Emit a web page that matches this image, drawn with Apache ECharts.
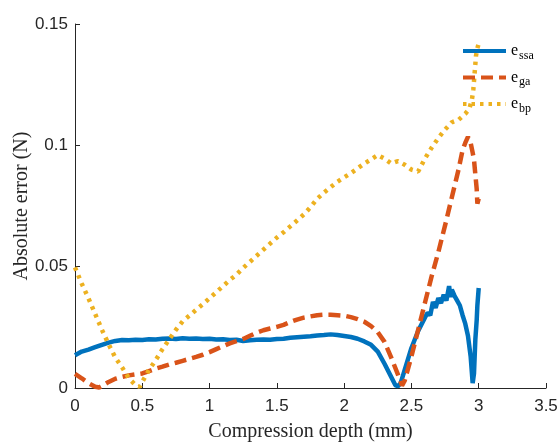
<!DOCTYPE html>
<html>
<head>
<meta charset="utf-8">
<script src="https://cdn.jsdelivr.net/npm/echarts@6/dist/echarts.min.js"></script>
<style>
html,body{margin:0;padding:0;background:#fff;}
#chart{width:558px;height:443px;}
</style>
</head>
<body>
<div id="chart"></div>
<script>
// ---- data ----
var seriesNames = ['e_ssa', 'e_ga', 'e_bp'];
var legendSubs = ['ssa', 'ga', 'bp'];
var xTickLabels = ['0', '0.5', '1', '1.5', '2', '2.5', '3', '3.5'];
var yTickLabels = ['0', '0.05', '0.1', '0.15'];

var depthSsa = [0,0.05,0.1,0.15,0.2,0.25,0.3,0.35,0.4,0.45,0.5,0.55,0.6,0.65,0.7,0.75,0.8,0.85,0.9,0.95,1.0,1.05,1.1,1.15,1.2,1.25,1.3,1.35,1.4,1.45,1.5,1.55,1.6,1.65,1.7,1.75,1.8,1.85,1.9,1.95,2.0,2.05,2.1,2.15,2.2,2.25,2.3,2.35,2.38,2.4,2.42,2.45,2.5,2.55,2.6,2.62,2.64,2.66,2.68,2.7,2.72,2.74,2.76,2.78,2.79,2.8,2.82,2.84,2.86,2.88,2.9,2.92,2.94,2.955,2.965,2.975,2.985,2.99,3.0];
var errSsa = [0.0135,0.0150,0.0158,0.0168,0.0178,0.0187,0.0194,0.0198,0.0197,0.0199,0.0198,0.0201,0.0200,0.0203,0.0204,0.0202,0.0205,0.0203,0.0204,0.0202,0.0203,0.0200,0.0201,0.0198,0.0199,0.0194,0.0197,0.0199,0.0200,0.0199,0.0202,0.0203,0.0207,0.0209,0.0211,0.0213,0.0216,0.0218,0.0221,0.0218,0.0214,0.0210,0.0203,0.0192,0.0178,0.0150,0.0100,0.0045,0.0012,0.0007,0.0020,0.0075,0.0165,0.0235,0.0290,0.0310,0.0300,0.0355,0.0330,0.0370,0.0350,0.0385,0.0360,0.0420,0.0375,0.0405,0.0380,0.0360,0.0340,0.0300,0.0265,0.0215,0.0130,0.0020,0.0060,0.0200,0.0280,0.0340,0.0412];

var depthGa = [0,0.05,0.1,0.15,0.18,0.2,0.25,0.3,0.35,0.4,0.45,0.5,0.55,0.6,0.65,0.7,0.75,0.8,0.85,0.9,0.95,1.0,1.05,1.1,1.15,1.2,1.25,1.3,1.35,1.4,1.45,1.5,1.55,1.6,1.65,1.7,1.75,1.8,1.85,1.9,1.95,2.0,2.05,2.1,2.15,2.2,2.25,2.3,2.35,2.4,2.43,2.45,2.5,2.55,2.6,2.65,2.7,2.75,2.8,2.85,2.88,2.9,2.92,2.94,2.955,2.965,2.975,2.985,2.99,3.0];
var errGa = [0.0058,0.0040,0.0020,0.0005,0.0002,0.0008,0.0025,0.0038,0.0046,0.0052,0.0056,0.0060,0.0070,0.0080,0.0088,0.0097,0.0104,0.0112,0.0120,0.0128,0.0137,0.0148,0.0160,0.0172,0.0184,0.0193,0.0202,0.0215,0.0228,0.0238,0.0245,0.0252,0.0260,0.0272,0.0282,0.0290,0.0295,0.0300,0.0302,0.0302,0.0300,0.0298,0.0292,0.0284,0.0273,0.0255,0.0230,0.0190,0.0125,0.0055,0.0010,0.0030,0.0130,0.0240,0.0350,0.0460,0.0560,0.0670,0.0785,0.0900,0.0980,0.1010,0.1035,0.1010,0.0970,0.0940,0.0880,0.0820,0.0760,0.0780];

var depthBp = [0,0.05,0.1,0.15,0.2,0.25,0.3,0.35,0.4,0.45,0.48,0.5,0.55,0.6,0.65,0.7,0.75,0.8,0.85,0.9,0.95,1.0,1.05,1.1,1.15,1.2,1.25,1.3,1.35,1.4,1.45,1.5,1.55,1.6,1.65,1.7,1.75,1.8,1.85,1.9,1.95,2.0,2.05,2.1,2.15,2.2,2.25,2.3,2.35,2.4,2.45,2.5,2.55,2.6,2.65,2.7,2.75,2.8,2.85,2.9,2.93,2.95,2.96,2.97,2.98,2.99,3.0];
var errBp = [0.0497,0.0430,0.0370,0.0305,0.0240,0.0180,0.0125,0.0085,0.0040,0.0012,0.0005,0.0025,0.0075,0.0115,0.0160,0.0200,0.0240,0.0275,0.0298,0.0322,0.0345,0.0370,0.0395,0.0420,0.0445,0.0467,0.0495,0.0520,0.0545,0.0570,0.0595,0.0620,0.0642,0.0666,0.0690,0.0715,0.0745,0.0780,0.0805,0.0828,0.0850,0.0868,0.0885,0.0905,0.0925,0.0942,0.0960,0.0945,0.0925,0.0935,0.0920,0.0900,0.0892,0.0945,0.0990,0.1030,0.1065,0.1095,0.1105,0.1130,0.1150,0.1190,0.1230,0.1300,0.1370,0.1400,0.1420];

function pairs(xs, ys) { return xs.map(function (x, i) { return [x, ys[i]]; }); }

var axisColor = '#262626';
var chart = echarts.init(document.getElementById('chart'), null, {renderer: 'canvas'});
var subMap = {};
seriesNames.forEach(function (n, i) { subMap[n] = legendSubs[i]; });

chart.setOption({
  animation: false,
  backgroundColor: '#fff',
  grid: {left: 75, right: 12, top: 24, bottom: 55, containLabel: false, outerBoundsMode: 'none'},
  xAxis: {
    type: 'value', min: 0, max: 3.5, interval: 0.5,
    name: 'Compression depth (mm)', nameLocation: 'middle', nameGap: 34, nameMoveOverlap: false,
    nameTextStyle: {fontFamily: 'Liberation Serif', fontSize: 20, color: axisColor},
    axisLine: {show: true, onZero: false, lineStyle: {color: axisColor, width: 1}},
    axisTick: {show: true, inside: true, length: 5, lineStyle: {color: axisColor}},
    axisLabel: {fontFamily: 'Liberation Sans', fontSize: 17, color: axisColor, margin: 10,
      formatter: function (v) { var i = Math.round(v / 0.5); return xTickLabels[i]; }},
    splitLine: {show: false}
  },
  yAxis: {
    type: 'value', min: 0, max: 0.15, interval: 0.05,
    name: 'Absolute error (N)', nameLocation: 'middle', nameGap: 43, nameMoveOverlap: false,
    nameTextStyle: {fontFamily: 'Liberation Serif', fontSize: 20, color: axisColor},
    axisLine: {show: true, onZero: false, lineStyle: {color: axisColor, width: 1}},
    axisTick: {show: true, inside: true, length: 5, lineStyle: {color: axisColor}},
    axisLabel: {fontFamily: 'Liberation Sans', fontSize: 17, color: axisColor, margin: 7,
      formatter: function (v) { var i = Math.round(v / 0.05); return yTickLabels[i]; }},
    splitLine: {show: false}
  },
  legend: {
    orient: 'vertical', left: 456, top: 38,
    itemWidth: 43, itemHeight: 10, itemGap: 8,
    data: seriesNames,
    itemStyle: {opacity: 0},
    lineStyle: {width: 4},
    formatter: function (name) { return '{e|e}{s|' + subMap[name] + '}'; },
    textStyle: {
      color: '#000',
      rich: {
        e: {fontFamily: 'Liberation Serif', fontSize: 16, color: '#000'},
        s: {fontFamily: 'Liberation Serif', fontSize: 12, color: '#000', padding: [9, 0, 0, 1]}
      }
    }
  },
  series: [
    {name: seriesNames[0], type: 'line', data: pairs(depthSsa, errSsa), showSymbol: false, symbol: 'none',
      lineStyle: {color: '#0072BD', width: 4.5, type: 'solid'}, itemStyle: {color: '#0072BD'}},
    {name: seriesNames[1], type: 'line', data: pairs(depthGa, errGa), showSymbol: false, symbol: 'none',
      lineStyle: {color: '#D95319', width: 4.5, type: [12, 6]}, itemStyle: {color: '#D95319'}},
    {name: seriesNames[2], type: 'line', data: pairs(depthBp, errBp), showSymbol: false, symbol: 'none',
      lineStyle: {color: '#EDB120', width: 4.5, type: [3.5, 5]}, itemStyle: {color: '#EDB120'}}
  ]
});
</script>
</body>
</html>
